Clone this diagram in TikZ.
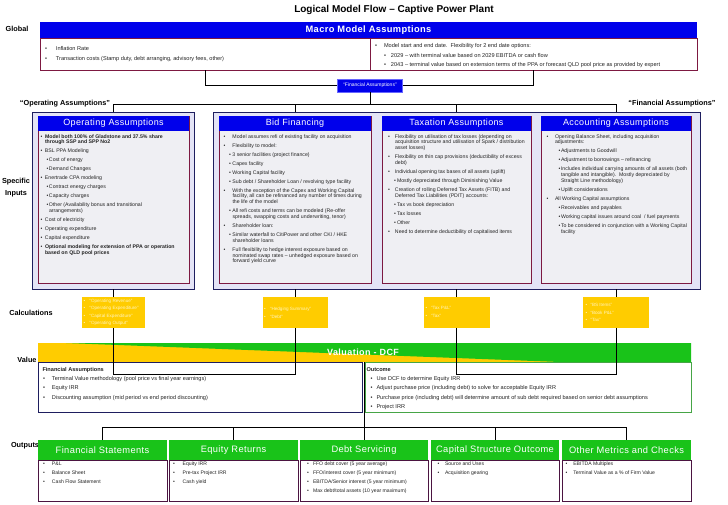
\documentclass[tikz,border=0pt]{standalone}
\usepackage{fontspec}
\setmainfont{Liberation Sans}
\newfontfamily\hdfont[LetterSpace=4]{Liberation Sans}
\newfontfamily\hdbfont[LetterSpace=5]{Liberation Sans}
\usetikzlibrary{calc}
\definecolor{hblue}{RGB}{0,0,235}
\definecolor{cardb}{RGB}{125,25,65}
\definecolor{cardf}{RGB}{239,239,243}
\definecolor{navyb}{RGB}{30,30,95}
\definecolor{lavf}{RGB}{228,228,246}
\definecolor{gold}{RGB}{255,204,0}
\definecolor{gbar}{RGB}{25,195,25}
\definecolor{ohb}{RGB}{75,20,65}
\definecolor{outg}{RGB}{70,165,70}
\definecolor{txtc}{RGB}{35,35,35}
\definecolor{calct}{RGB}{255,244,190}
\newlength\Lb \newlength\Lm \newlength\Sb \newlength\Sm
\newcommand\ind[4]{\setlength\Lb{#1pt}\setlength\Lm{#2pt}\setlength\Sb{#3pt}\setlength\Sm{#4pt}}
\newcommand\rr{\rightskip=0pt plus 1fil\parfillskip=0pt plus 1fil\spaceskip=0pt\xspaceskip=0pt\hyphenpenalty=10000\exhyphenpenalty=10000\relax}
\newcommand\bi[1]{\par\rr\leftskip=\Lm\relax\noindent\llap{\makebox[\dimexpr\Lm-\Lb\relax][l]{\textbullet}}#1}
\newcommand\si[1]{\par\rr\leftskip=\Sm\relax\noindent\llap{\makebox[\dimexpr\Sm-\Sb\relax][l]{\textbullet}}#1}
\newcommand\ti[1]{\par\rr\leftskip=0pt\noindent #1}
\newcommand\cardfont{\fontsize{5.2}{5.8}\selectfont\setlength\parskip{3.2pt}}
\newcommand\macrofont{\fontsize{5.6}{6.5}\selectfont\setlength\parskip{3.2pt}}
\newcommand\valfont{\fontsize{5.6}{6.2}\selectfont\setlength\parskip{3.2pt}}
\newcommand\outfont{\fontsize{5.1}{5.8}\selectfont\setlength\parskip{3.2pt}}
\newcommand\calcfont{\fontsize{4.6}{5}\selectfont\setlength\parskip{2.6pt}}
\begin{document}
\begin{tikzpicture}[x=1pt,y=-1pt,
 box/.style={rectangle, inner sep=0pt, outer sep=0pt, anchor=north west},
 txt/.style={anchor=north west, inner sep=0pt, outer sep=0pt, align=left, text=txtc},
 conn/.style={draw=black, line width=0.7pt},
 frame/.style={box, draw=navyb, fill=lavf, line width=0.8pt},
 card/.style={box, draw=cardb, fill=cardf, line width=0.6pt},
 chead/.style={box, fill=hblue, text=white, font=\hdfont\fontsize{9}{10}\selectfont},
 calcbox/.style={rectangle, inner sep=0pt, outer sep=0pt, fill=gold, minimum height=31pt},
 ohead/.style={box, fill=gbar, text=white, minimum height=20pt, font=\hdfont\fontsize{9.3}{10}\selectfont},
 obody/.style={box, draw=ohb, fill=white, line width=0.6pt, minimum height=41pt},
 side/.style={font=\bfseries\fontsize{7.3}{12}\selectfont, align=center, inner sep=0pt}
]
\useasboundingbox (0,0) rectangle (728,504);
% title and side labels
\node[font=\bfseries\fontsize{10}{12}\selectfont, inner sep=0pt] (title) at (394,10) {Logical Model Flow – Captive Power Plant};
\node[side] (lglobal) at (17,29) {Global};
\node[side] (lspec) at (16,188) {Specific\\Inputs};
\node[side] (lcalc) at (31,313) {Calculations};
\node[side] (lval) at (27,360) {Value};
\node[side] (lout) at (25,446) {Outputs};
\node[side] (lopa) at (65,104) {“Operating Assumptions”};
\node[side] (lfina) at (672,104) {“Financial Assumptions”};
% macro
\node[box, fill=hblue, text=white, minimum width=657pt, minimum height=16pt, font=\bfseries\hdfont\fontsize{9.3}{10}\selectfont] (mh) at (40,22) {Macro Model Assumptions};
\node[box, draw=cardb, fill=white, line width=0.6pt, minimum width=330pt, minimum height=32pt] (mbl) at (40,38) {};
\node[box, draw=cardb, fill=white, line width=0.6pt, minimum width=327pt, minimum height=32pt] (mbr) at (370,38) {};
\node[txt, text width=325pt] (mtl) at (40,41.2) {\macrofont\ind{5}{16}{0}{0}%
\bi{Inflation Rate}
\bi{Transaction costs (Stamp duty, debt arranging, advisory fees, other)}\par};
\node[txt, text width=325pt] (mtr) at (370,37.7) {\macrofont\ind{5}{14}{14}{21}%
\bi{Model start and end date.\ \ Flexibility for 2 end date options:}
\si{2029 – with terminal value based on 2029 EBITDA or cash flow}
\si{2043 – terminal value based on extension terms of the PPA or forecast QLD pool price as provided by expert}\par};
\node[rectangle, inner sep=0pt, fill=hblue, draw=blue!60!white, line width=0.4pt, minimum width=65pt, minimum height=13pt, text=white, font=\fontsize{5}{6}\selectfont] (fa) at (370,85.5) {“Financial Assumptions”};
\coordinate (hb) at (0,104);
% frames and cards
\node[frame, minimum width=162pt, minimum height=177pt] (opf) at (32,112) {};
\node[frame, minimum width=487pt, minimum height=177pt] (bff) at (213,112) {};
\node[card, minimum width=151pt, minimum height=167pt] (opc) at (38,116) {};
\node[card, minimum width=152pt, minimum height=167pt] (bic) at (219,116) {};
\node[card, minimum width=149pt, minimum height=167pt] (taxc) at (382,116) {};
\node[card, minimum width=150pt, minimum height=167pt] (accc) at (541,116) {};
\node[chead, minimum width=151pt, minimum height=15pt] (oph) at (38,116) {Operating Assumptions};
\node[chead, minimum width=152pt, minimum height=15pt] (bih) at (219,116) {Bid Financing};
\node[chead, minimum width=149pt, minimum height=15pt] (taxh) at (382,116) {Taxation Assumptions};
\node[chead, minimum width=150pt, minimum height=15pt] (acch) at (541,116) {Accounting Assumptions};
\node[txt, text width=160pt] (opt) at (38,129) {\cardfont\ind{2.5}{7}{8.5}{11}%
\bi{\textbf{Model both 100\% of Gladstone and 37.5\% share\newline through SSP and SPP No2}}
\bi{BSL PPA Modeling}
\si{Cost of energy}
\si{Demand Changes}
\bi{Enertrade CPA modeling}
\si{Contract energy charges}
\si{Capacity charges}
\si{Other (Availability bonus and transitional\newline arrangements)}
\bi{Cost of electricity}
\bi{Operating expenditure}
\bi{Capital expenditure}
\bi{\textbf{Optional modeling for extension of PPA or operation\newline based on QLD pool prices}}\par};
\node[txt, text width=160pt] (bit) at (219,129) {\cardfont\ind{4.5}{13.5}{10}{13.5}%
\bi{Model assumes refi of existing facility on acquisition}
\bi{Flexibility to model:}
\si{3 senior facilities (project finance)}
\si{Capex facility}
\si{Working Capital facility}
\si{Sub debt / Shareholder Loan / revolving type facility}
\bi{With the exception of the Capex and Working Capital\newline facility, all can be refinanced any number of times during\newline the life of the model}
\si{All refi costs and terms can be modeled (Re-offer\newline spreads, swapping costs and underwriting, tenor)}
\bi{Shareholder loan:}
\si{Similar waterfall to CitiPower and other CKI / HKE\newline shareholder loans}
\bi{Full flexibility to hedge interest exposure based on\newline nominated swap rates – unhedged exposure based on\newline forward yield curve}\par};
\node[txt, text width=160pt] (taxt) at (382,129) {\cardfont\ind{6}{13}{12}{15}%
\bi{Flexibility on utilisation of tax losses (depending on\newline acquisition structure and utilisation of Spark / distribution\newline asset losses)}
\bi{Flexibility on thin cap provisions (deductibility of excess\newline debt)}
\bi{Individual opening tax bases of all assets (uplift)}
\si{Mostly depreciated through Diminishing Value}
\bi{Creation of rolling Deferred Tax Assets (FITB) and\newline Deferred Tax Liabilities (PDIT) accounts:}
\si{Tax vs book depreciation}
\si{Tax losses}
\si{Other}
\bi{Need to determine deductibility of capitalised items}\par};
\node[txt, text width=160pt] (acct) at (541,129) {\cardfont\ind{5.5}{14}{17.5}{20}%
\bi{Opening Balance Sheet, including acquisition\newline adjustments:}
\si{Adjustments to Goodwill}
\si{Adjustment to borrowings – refinancing}
\si{Includes individual carrying amounts of all assets (both\newline tangible and intangible).\ \ Mostly depreciated by\newline Straight Line methodology)}
\si{Uplift considerations}
\bi{All Working Capital assumptions}
\si{Receivables and payables}
\si{Working capital issues around coal\ \ / fuel payments}
\si{To be considered in conjunction with a Working Capital\newline facility}\par};
% calculation boxes
\node[calcbox, minimum width=63pt] (c1) at (113.5,312.5) {};
\node[calcbox, minimum width=65pt] (c2) at (295,312.5) {};
\node[calcbox, minimum width=66pt] (c3) at (456.5,312.5) {};
\node[calcbox, minimum width=66pt] (c4) at (616,312.5) {};
\node[txt, text=calct, text width=70pt] (c1t) at (c1.west |- 0,294.4) {\calcfont\ind{1.5}{7.5}{0}{0}%
\bi{“Operating Revenue”}\bi{“Operating Expenditure”}\bi{“Capital Expenditure”}\bi{“Operating Output”}\par};
\node[txt, text=calct, text width=70pt] (c2t) at (c2.west |- 0,302.8) {\calcfont\ind{1.5}{7.5}{0}{0}%
\bi{“Hedging Summary”}\bi{“Debt”}\par};
\node[txt, text=calct, text width=70pt] (c3t) at (c3.west |- 0,301.8) {\calcfont\ind{2}{7.5}{0}{0}%
\bi{“Tax P\&L”}\bi{“Tax”}\par};
\node[txt, text=calct, text width=70pt] (c4t) at (c4.west |- 0,298.8) {\calcfont\ind{2.5}{7.5}{0}{0}%
\bi{“BS Items”}\bi{“Book P\&L”}\bi{“Tax”}\par};
% value
\node[box, minimum width=653pt, minimum height=19pt] (vbar) at (38,343) {};
\fill[gold] (vbar.north west) rectangle (vbar.south east);
\fill[gbar] ($(vbar.north west)+(28,0)$) -- (vbar.north east) -- (vbar.south east) -- ($(vbar.south west)+(522,0)$) -- cycle;
\node[text=white, font=\bfseries\hdbfont\fontsize{9}{10}\selectfont, inner sep=0pt] (vtext) at (363,352.5) {Valuation - DCF};
\node[box, draw=navyb, fill=white, line width=0.6pt, minimum width=324pt, minimum height=50pt] (fab) at (38,362) {};
\node[box, draw=outg, fill=white, line width=0.6pt, minimum width=326pt, minimum height=50pt] (outb) at (365,362) {};
\node[txt, text width=330pt] (fabt) at (42.5,361.7) {\valfont\ind{0.5}{9.5}{0}{0}%
\ti{\textbf{Financial Assumptions}}
\bi{Terminal Value methodology (pool price vs final year earnings)}
\bi{Equity IRR}
\bi{Discounting assumption (mid period vs end period discounting)}\par};
\node[txt, text width=340pt] (outbt) at (366.5,361.7) {\valfont\ind{4}{10}{0}{0}%
\ti{\textbf{Outcome}}
\bi{Use DCF to determine Equity IRR}
\bi{Adjust purchase price (including debt) to solve for acceptable Equity IRR}
\bi{Purchase price (including debt) will determine amount of sub debt required based on senior debt assumptions}
\bi{Project IRR}\par};
% outputs
\node[ohead, minimum width=129pt] (fs) at (38,440) {Financial Statements};
\node[ohead, minimum width=129pt] (er) at (169,440) {Equity Returns};
\node[ohead, minimum width=128pt] (ds) at (300,440) {Debt Servicing};
\node[ohead, minimum width=128pt] (cs) at (431,440) {Capital Structure Outcome};
\node[ohead, minimum width=129pt] (om) at (562,440) {Other Metrics and Checks};
\node[obody, minimum width=129pt] (fsb) at (38,460) {};
\node[obody, minimum width=129pt] (erb) at (169,460) {};
\node[obody, minimum width=128pt] (dsb) at (300,460) {};
\node[obody, minimum width=128pt] (csb) at (431,460) {};
\node[obody, minimum width=129pt] (omb) at (562,460) {};
\node[txt, text width=140pt] (fst) at (38,456.6) {\outfont\ind{5}{14}{0}{0}%
\bi{P\&L}\bi{Balance Sheet}\bi{Cash Flow Statement}\par};
\node[txt, text width=140pt] (ert) at (169,456.6) {\outfont\ind{4}{13.7}{0}{0}%
\bi{Equity IRR}\bi{Pre-tax Project IRR}\bi{Cash yield}\par};
\node[txt, text width=140pt] (dst) at (300,456.6) {\outfont\ind{7}{13}{0}{0}%
\bi{FFO debt cover (5 year average)}\bi{FFO/interest cover (5 year minimum)}\bi{EBITDA/Senior interest (5 year minimum)}\bi{Max debt/total assets (10 year maximum)}\par};
\node[txt, text width=140pt] (cst) at (431,456.6) {\outfont\ind{6.7}{14}{0}{0}%
\bi{Source and Uses}\bi{Acquisition gearing}\par};
\node[txt, text width=140pt] (omt) at (562,456.6) {\outfont\ind{3.7}{11.3}{0}{0}%
\bi{EBITDA Multiples}\bi{Terminal Value as a \% of Firm Value}\par};
% connectors
\coordinate (yv) at (0,374);
\coordinate (yo) at (0,427);
\draw[conn] (mbl.south) |- (fa.west);
\draw[conn] (mbr.south) |- (fa.east);
\draw[conn] (fa.south) -- (fa.south |- hb);
\draw[conn] (opc.north |- hb) -- (accc.north |- hb);
\draw[conn] (opc.north |- hb) -- (opc.north |- opf.north);
\draw[conn] (bic.north |- hb) -- (bic.north |- bff.north);
\draw[conn] (taxc.north |- hb) -- (taxc.north |- bff.north);
\draw[conn] (accc.north |- hb) -- (accc.north |- bff.north);
\draw[conn] (opc.south |- opf.south) -- (c1.north);
\draw[conn] (bic.south |- bff.south) -- (c2.north);
\draw[conn] (taxc.south |- bff.south) -- (c3.north);
\draw[conn] (accc.south |- bff.south) -- (c4.north);
\draw[conn] (c1.south) -- (c1.south |- yv) -| (c2.south);
\draw[conn] (c3.south) -- (c3.south |- yv) -| (c4.south);
\draw[conn] (ds.north |- vbar.south) -- (ds.north);
\draw[conn] (fs.north) -- (fs.north |- yo) -| (om.north);
\draw[conn] (er.north) -- (er.north |- yo);
\draw[conn] (cs.north) -- (cs.north |- yo);
\end{tikzpicture}
\end{document}
